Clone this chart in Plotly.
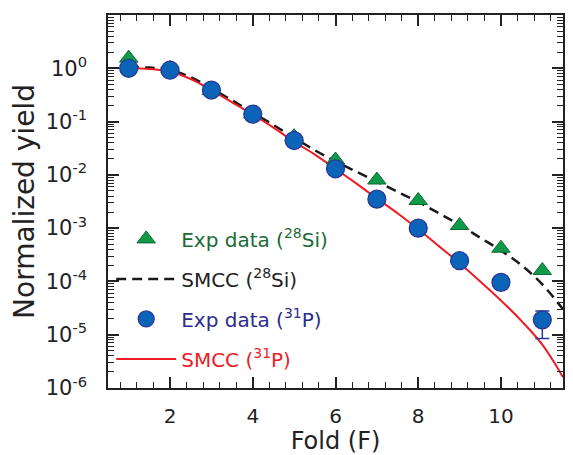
import plotly.graph_objects as go

# ---- data ----
fold_exp = [1, 2, 3, 4, 5, 6, 7, 8, 9, 10, 11]
si_exp = [1.55, 1.0, 0.38, 0.14, 0.052, 0.019, 0.0080, 0.0033, 0.00112, 0.00042, 0.00016]
p_exp = [1.0, 0.92, 0.39, 0.138, 0.044, 0.013, 0.0035, 0.00100, 0.000245, 9.6e-5, 1.9e-5]
p_err_plus = [0, 0, 0, 0, 0, 0, 0, 0, 0, 0, 0.9e-5]
p_err_minus = [0, 0, 0, 0, 0, 0, 0, 0, 0, 0, 1.05e-5]

fold_calc = [1.0, 1.5, 2.0, 2.5, 3.0, 3.5, 4.0, 4.5, 5.0, 5.5, 6.0,
             6.5, 7.0, 7.5, 8.0, 8.5, 9.0, 9.5, 10.0, 10.5, 11.0, 11.5]
si_smcc = [1.05, 1.03, 0.93, 0.68, 0.42, 0.25, 0.148, 0.086, 0.050, 0.029, 0.018,
           0.0115, 0.0075, 0.0048, 0.0031, 0.0019, 0.00115, 0.00066, 0.00038, 0.0002, 8.8e-5, 3.0e-5]
p_smcc = [1.0, 0.97, 0.86, 0.63, 0.39, 0.23, 0.135, 0.077, 0.042, 0.024, 0.013,
          0.0069, 0.0036, 0.0019, 0.00095, 0.00046, 0.00022, 0.0001, 4.4e-5, 1.8e-5, 6.5e-6, 1.6e-6]

x_ticks = [2, 4, 6, 8, 10]
x_minor_ticks = [0.8, 1.2, 1.6, 2.4, 2.8, 3.2, 3.6, 4.4, 4.8, 5.2, 5.6, 6.4, 6.8, 7.2, 7.6,
                 8.4, 8.8, 9.2, 9.6, 10.4, 10.8, 11.2]
y_exponents = [-6, -5, -4, -3, -2, -1, 0, 1]
y_ticks = [10.0 ** e for e in y_exponents]
y_ticktext = [f"10<sup>{e}</sup>" for e in y_exponents]
y_minor_ticks = [m * 10.0 ** e for e in y_exponents[:-1] for m in range(2, 10)]

FONT = "DejaVu Sans, Liberation Sans, Arial, sans-serif"

fig = go.Figure()

fig.add_trace(go.Scatter(
    x=fold_calc, y=si_smcc, mode="lines", showlegend=False, line_shape="spline",
    line=dict(color="#1a1a1a", width=2.5, dash="10px,6px"), hoverinfo="skip"))
fig.add_trace(go.Scatter(
    x=fold_calc, y=p_smcc, mode="lines", showlegend=False, line_shape="spline",
    line=dict(color="#ee1c25", width=2), hoverinfo="skip"))
fig.add_trace(go.Scatter(
    x=fold_exp, y=si_exp, mode="markers", showlegend=False,
    marker=dict(symbol="triangle-up", size=16, color="#0e9a48",
                line=dict(color="#0b6a30", width=1))))
fig.add_trace(go.Scatter(
    x=fold_exp, y=p_exp, mode="markers", showlegend=False,
    error_y=dict(type="data", array=p_err_plus, arrayminus=p_err_minus,
                 color="#2b3594", thickness=1.5, width=7, symmetric=False),
    marker=dict(symbol="circle", size=18, color="#0b64b8",
                line=dict(color="#2b3594", width=1.2))))

# legend entries
leg = [
    dict(name="<span style='color:#1a6b35'>Exp data (<sup>28</sup>Si)</span>", mode="markers",
         marker=dict(symbol="triangle-up", size=16, color="#0e9a48", line=dict(color="#0b6a30", width=1))),
    dict(name="<span style='color:#222222'>SMCC (<sup>28</sup>Si)</span>", mode="lines",
         line=dict(color="#1a1a1a", width=2.5, dash="10px,6px")),
    dict(name="<span style='color:#2b2d8c'>Exp data (<sup>31</sup>P)</span>", mode="markers",
         marker=dict(symbol="circle", size=18, color="#0b64b8", line=dict(color="#2b3594", width=1.2))),
    dict(name="<span style='color:#ee1c25'>SMCC (<sup>31</sup>P)</span>", mode="lines",
         line=dict(color="#ee1c25", width=2)),
]
for i, d in enumerate(leg):
    fig.add_trace(go.Scatter(x=[None], y=[None], legendgroup=f"g{i}", showlegend=True, **d))

axis_common = dict(
    showline=True, linecolor="#222222", linewidth=1.5, mirror="allticks",
    ticks="inside", ticklen=11, tickwidth=1.5, tickcolor="#222222",
    showgrid=False, zeroline=False, automargin=False,
)

fig.update_xaxes(
    range=[0.5, 11.5], tickmode="array", tickvals=x_ticks, ticktext=[str(v) for v in x_ticks],
    ticklabelstandoff=9, tickfont=dict(family=FONT, size=20, color="#222222"),
    minor=dict(ticks="inside", ticklen=6, tickwidth=1.2, tickcolor="#222222",
               tickmode="array", tickvals=x_minor_ticks, showgrid=False),
    title=dict(text="Fold (F)", font=dict(family=FONT, size=24, color="#222222"), standoff=3),
    **axis_common)
fig.update_yaxes(
    type="log", range=[-6, 1], tickmode="array", tickvals=y_ticks, ticktext=y_ticktext,
    ticklabelstandoff=15, tickfont=dict(family=FONT, size=21, color="#222222"),
    minor=dict(ticks="inside", ticklen=6, tickwidth=1.2, tickcolor="#222222",
               tickmode="array", tickvals=y_minor_ticks, showgrid=False),
    title=dict(text="Normalized yield", font=dict(family=FONT, size=28, color="#222222"), standoff=10),
    **axis_common)

fig.update_layout(
    width=565, height=447,
    margin=dict(l=100, r=10, t=7, b=67),
    paper_bgcolor="white", plot_bgcolor="white",
    font=dict(family=FONT, size=20, color="#222222"),
    legend=dict(x=0.007, y=0.452, xanchor="left", yanchor="top",
                bgcolor="rgba(0,0,0,0)", borderwidth=0, itemwidth=60,
                tracegroupgap=11, font=dict(family=FONT, size=20)),
)

fig.write_html("out.html")
